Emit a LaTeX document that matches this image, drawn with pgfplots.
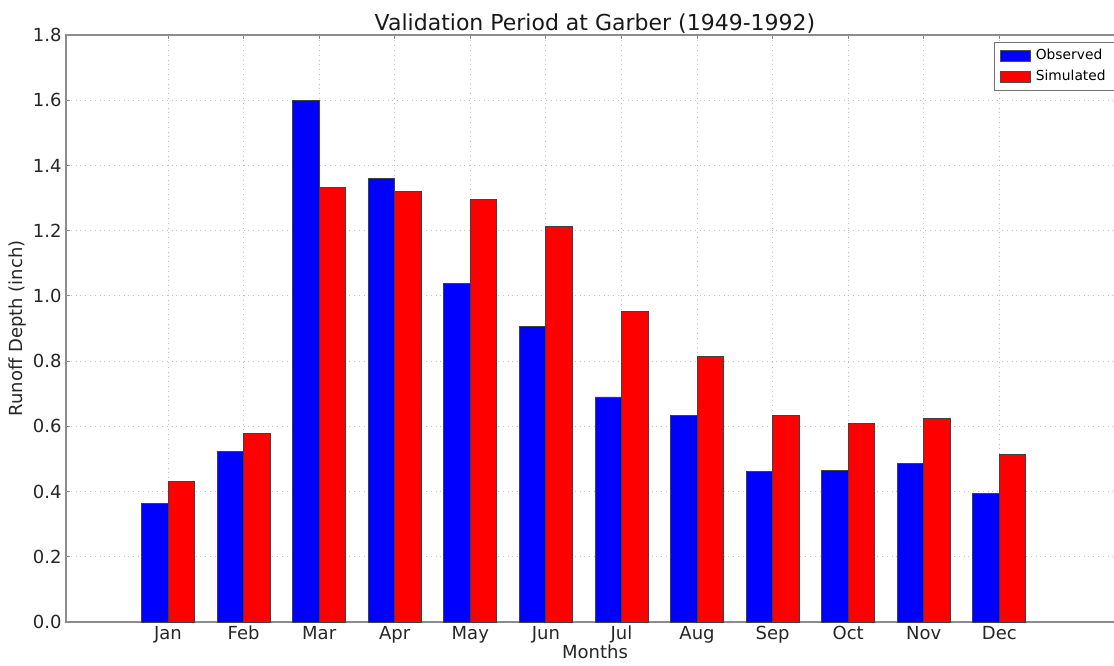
\documentclass[border=0pt]{standalone}
\usepackage{fontspec}
\setmainfont{DejaVu Sans}
\usepackage{pgfplots}
\pgfplotsset{compat=1.18}
\usepackage{pgfplotstable}

\pgfplotstableread{
x obs sim
0.35 0.364 0.430
1.35 0.522 0.577
2.35 1.600 1.332
3.35 1.359 1.320
4.35 1.039 1.297
5.35 0.905 1.213
6.35 0.690 0.951
7.35 0.634 0.813
8.35 0.463 0.632
9.35 0.466 0.610
10.35 0.485 0.625
11.35 0.395 0.515
}\data

\begin{document}
\begin{tikzpicture}
\begin{axis}[
  scale only axis, width=529pt, height=293.5pt,
  xmin=-1, xmax=13, ymin=0, ymax=1.8,
  ybar, bar width=0.35,
  xtick={0.35,1.35,2.35,3.35,4.35,5.35,6.35,7.35,8.35,9.35,10.35,11.35},
  xticklabels={Jan,Feb,Mar,Apr,May,Jun,Jul,Aug,Sep,Oct,Nov,Dec},
  ytick={0,0.2,0.4,0.6,0.8,1.0,1.2,1.4,1.6,1.8},
  /pgf/number format/assume math mode=true,
  tick label style={font=\fontsize{9}{10}\selectfont, text=black!85},
  xticklabel style={anchor=base, yshift=-8.5pt, inner sep=0pt},
  yticklabel style={anchor=east, inner sep=0pt, xshift=-2pt,
    /pgf/number format/fixed, /pgf/number format/fixed zerofill, /pgf/number format/precision=1},
  tick align=inside, tick pos=both, major tick length=2pt,
  tick style={black!45, line width=0.5pt},
  axis line style={draw=black!45, line width=0.75pt},
  grid=major, grid style={dotted, black!25, line width=0.4pt},
  every axis title shift=0pt,
  title={Validation Period at Garber (1949-1992)},
  title style={at={(axis description cs:0.5,1.0085)}, anchor=base, inner sep=0pt, font=\fontsize{11}{13}\selectfont, text=black!90},
  xlabel={Months},
  xlabel style={at={(axis description cs:0.5,-0.063)}, anchor=base, inner sep=0pt, font=\fontsize{9}{10}\selectfont, text=black!85},
  ylabel={Runoff Depth (inch)},
  ylabel style={at={(axis description cs:-0.0454,0.5)}, anchor=center, inner sep=0pt, font=\fontsize{9}{10}\selectfont, text=black!85},
  legend image code/.code={\draw[#1, draw=black!70, line width=0.4pt] (0pt,-2.75pt) rectangle (15pt,2.75pt);},
  legend cell align=left,
  legend style={at={(axis description cs:1,1)}, anchor=north east, xshift=-3.5pt, yshift=-3.5pt,
    draw=black!55, line width=0.4pt, font=\fontsize{6.9}{8}\selectfont,
    inner xsep=3pt, inner ysep=1.5pt, row sep=-0.25pt,
    nodes={inner xsep=2.5pt}},
]
\addplot[fill=blue, draw=black!75, line width=0.4pt, bar shift=-0.175] table[x=x, y=obs] {\data};
\addlegendentry{Observed}
\addplot[fill=red, draw=black!75, line width=0.4pt, bar shift=0.175] table[x=x, y=sim] {\data};
\addlegendentry{Simulated}
\coordinate (sw) at (rel axis cs:0,0);
\coordinate (ne) at (rel axis cs:1,1);
\end{axis}
\pgfresetboundingbox
\path[use as bounding box] ([xshift=-33pt,yshift=-21.5pt]sw) rectangle ([xshift=-5pt,yshift=17.5pt]ne);
\end{tikzpicture}
\end{document}
